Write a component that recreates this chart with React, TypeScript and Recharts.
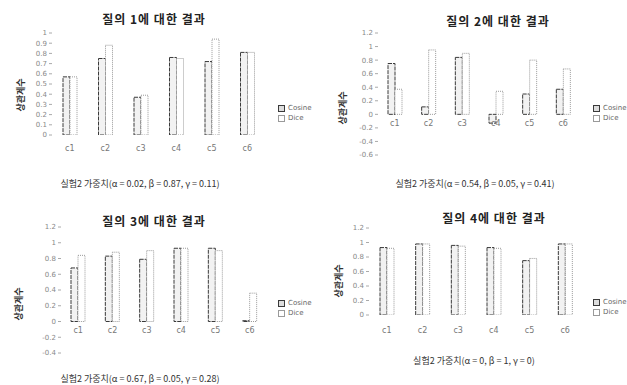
import React from "react";
import { BarChart, Bar, XAxis, YAxis, Legend } from "recharts";

const categories = ["c1", "c2", "c3", "c4", "c5", "c6"];
const seriesNames = ["Cosine", "Dice"];

const q1Cosine = [0.57, 0.75, 0.37, 0.76, 0.72, 0.81];
const q1Dice = [0.57, 0.88, 0.39, 0.75, 0.94, 0.81];
const q2Cosine = [0.75, 0.11, 0.84, -0.13, 0.3, 0.37];
const q2Dice = [0.37, 0.95, 0.9, 0.34, 0.8, 0.67];
const q3Cosine = [0.68, 0.83, 0.79, 0.93, 0.93, 0.01];
const q3Dice = [0.84, 0.88, 0.9, 0.93, 0.9, 0.36];
const q4Cosine = [0.93, 0.98, 0.96, 0.93, 0.75, 0.98];
const q4Dice = [0.92, 0.98, 0.95, 0.92, 0.78, 0.98];

const ticks1 = [0, 0.1, 0.2, 0.3, 0.4, 0.5, 0.6, 0.7, 0.8, 0.9, 1];
const ticks2 = [-0.6, -0.4, -0.2, 0, 0.2, 0.4, 0.6, 0.8, 1, 1.2];
const ticks3 = [-0.4, -0.2, 0, 0.2, 0.4, 0.6, 0.8, 1, 1.2];
const ticks4 = [0, 0.2, 0.4, 0.6, 0.8, 1, 1.2];

const titles = [
  "질의 1에 대한 결과",
  "질의 2에 대한 결과",
  "질의 3에 대한 결과",
  "질의 4에 대한 결과",
];
const xTitles = [
  "실험2 가중치(α = 0.02, β = 0.87, γ = 0.11)",
  "실험2 가중치(α = 0.54, β = 0.05, γ = 0.41)",
  "실험2 가중치(α = 0.67, β = 0.05, γ = 0.28)",
  "실험2 가중치(α = 0, β = 1, γ = 0)",
];

const toRows = (a: number[], b: number[]) =>
  categories.map((c, i) => ({ name: c, cosine: a[i], dice: b[i] }));

const FONT = "'Noto Sans CJK KR', 'DejaVu Sans', sans-serif";
const colors = ["#3a3a3a", "#9a9a9a"];

function SmallLegend() {
  return (
    <div style={{ fontSize: 7, color: "#666", lineHeight: "10px", fontFamily: "'DejaVu Sans', sans-serif" }}>
      {seriesNames.map((n, i) => (
        <div key={n} style={{ display: "flex", alignItems: "center" }}>
          <span
            style={{
              display: "inline-block",
              width: 5,
              height: 5,
              border: `1px solid ${colors[i]}`,
              background: i === 0 ? "#ddd" : "#fff",
              marginRight: 3,
            }}
          />
          {n}
        </div>
      ))}
    </div>
  );
}

interface PanelProps {
  left: number;
  top: number;
  width: number;
  height: number;
  data: { name: string; cosine: number; dice: number }[];
  domain: [number, number];
  ticks: number[];
  plotLeft: number;
  plotRight: number;
  plotTop: number;
  plotBottom: number;
  labelShift: number;
  legendLeft: number;
  legendTop: number;
}

function Panel(p: PanelProps) {
  const tick = ({ x, y, payload }: any) => (
    <text
      x={x}
      y={y + p.labelShift}
      textAnchor="middle"
      dominantBaseline="middle"
      fontSize={8}
      fill="#777"
      fontFamily="'DejaVu Sans', sans-serif"
    >
      {payload.value}
    </text>
  );
  return (
    <div style={{ position: "absolute", left: p.left, top: p.top }}>
      <BarChart
        width={p.width}
        height={p.height}
        data={p.data}
        margin={{
          top: p.plotTop,
          right: p.width - p.plotRight,
          bottom: p.height - p.plotBottom - 16,
          left: 0,
        }}
        barGap={0}
        barSize={7}
      >
        <XAxis
          dataKey="name"
          axisLine={false}
          tickLine={false}
          tickSize={0}
          tickMargin={0}
          height={16}
          tick={tick}
          interval={0}
        />
        <YAxis
          width={p.plotLeft}
          domain={p.domain}
          ticks={p.ticks}
          allowDataOverflow
          axisLine={false}
          tickSize={3}
          tickLine={{ stroke: "#aaa" }}
          tick={{ fontSize: 7, fill: "#888", fontFamily: "'DejaVu Sans', sans-serif" }}
          interval={0}
        />
        <Legend
          content={() => <SmallLegend />}
          wrapperStyle={{ position: "absolute", left: p.legendLeft, top: p.legendTop, width: "auto" }}
        />
        <Bar
          dataKey="cosine"
          name={seriesNames[0]}
          fill="#f2f2f2"
          stroke={colors[0]}
          strokeWidth={1}
          strokeDasharray="4 1"
          isAnimationActive={false}
        />
        <Bar
          dataKey="dice"
          name={seriesNames[1]}
          fill="#fff"
          stroke={colors[1]}
          strokeWidth={1}
          strokeDasharray="1 1"
          isAnimationActive={false}
        />
      </BarChart>
    </div>
  );
}

const abs = (left: number, top: number, extra: React.CSSProperties = {}): React.CSSProperties => ({
  position: "absolute",
  left,
  top,
  whiteSpace: "nowrap",
  ...extra,
});

function Title({ cx, cy, text }: { cx: number; cy: number; text: string }) {
  return (
    <div style={abs(cx, cy, { transform: "translate(-50%, -50%)", fontSize: 12, fontWeight: 700, color: "#222", letterSpacing: 1 })}>
      {text}
    </div>
  );
}

function XTitle({ cx, cy, text }: { cx: number; cy: number; text: string }) {
  return (
    <div style={abs(cx, cy, { transform: "translate(-50%, -50%)", fontSize: 9, color: "#333" })}>{text}</div>
  );
}

function YTitle({ cx, cy }: { cx: number; cy: number }) {
  return (
    <div
      style={abs(cx, cy, {
        transform: "translate(-50%, -50%) rotate(-90deg)",
        fontSize: 9,
        fontWeight: 700,
        color: "#333",
      })}
    >
      상관계수
    </div>
  );
}

export default function App() {
  return (
    <div
      style={{
        position: "absolute",
        left: 0,
        top: 0,
        width: 627,
        height: 385,
        background: "#fff",
        overflow: "hidden",
        fontFamily: FONT,
      }}
    >
      <Panel
        left={0}
        top={0}
        width={310}
        height={195}
        data={toRows(q1Cosine, q1Dice)}
        domain={[0, 1]}
        ticks={ticks1}
        plotLeft={52}
        plotRight={265}
        plotTop={33}
        plotBottom={155}
        labelShift={13}
        legendLeft={278}
        legendTop={103}
      />
      <Panel
        left={310}
        top={0}
        width={317}
        height={195}
        data={toRows(q2Cosine, q2Dice)}
        domain={[-0.6, 1.2]}
        ticks={ticks2}
        plotLeft={68}
        plotRight={270}
        plotTop={33}
        plotBottom={175}
        labelShift={-32}
        legendLeft={283}
        legendTop={103}
      />
      <Panel
        left={0}
        top={195}
        width={310}
        height={190}
        data={toRows(q3Cosine, q3Dice)}
        domain={[-0.4, 1.2]}
        ticks={ticks3}
        plotLeft={61}
        plotRight={267}
        plotTop={32}
        plotBottom={178}
        labelShift={-23}
        legendLeft={278}
        legendTop={103}
      />
      <Panel
        left={310}
        top={195}
        width={317}
        height={190}
        data={toRows(q4Cosine, q4Dice)}
        domain={[0, 1.2]}
        ticks={ticks4}
        plotLeft={59}
        plotRight={273}
        plotTop={33}
        plotBottom={140}
        labelShift={15}
        legendLeft={283}
        legendTop={102}
      />

      <Title cx={154} cy={18} text={titles[0]} />
      <Title cx={498} cy={20} text={titles[1]} />
      <Title cx={154} cy={220} text={titles[2]} />
      <Title cx={494} cy={217} text={titles[3]} />

      <XTitle cx={140} cy={183} text={xTitles[0]} />
      <XTitle cx={475} cy={183} text={xTitles[1]} />
      <XTitle cx={140} cy={378} text={xTitles[2]} />
      <XTitle cx={474} cy={360} text={xTitles[3]} />

      <YTitle cx={20} cy={95} />
      <YTitle cx={342} cy={108} />
      <YTitle cx={18} cy={304} />
      <YTitle cx={338} cy={281} />
    </div>
  );
}
